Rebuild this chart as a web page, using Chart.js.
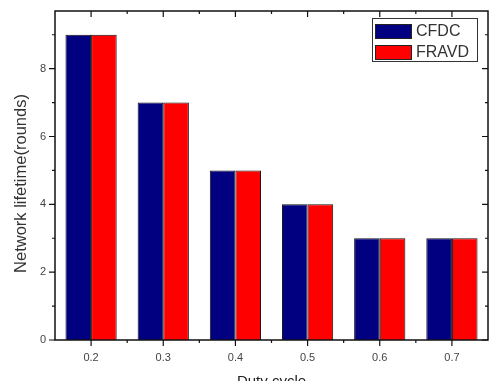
<!DOCTYPE html>
<html>
<head>
<meta charset="utf-8">
<script src="https://cdn.jsdelivr.net/npm/chart.js@4"></script>
<style>
  html, body { margin: 0; padding: 0; background: #fff; overflow: hidden; }
  #wrap { position: relative; width: 489px; height: 400px; }
</style>
</head>
<body>
<div id="wrap"><canvas id="chart"></canvas></div>
<script>
var dutyCycles = ['0.2', '0.3', '0.4', '0.5', '0.6', '0.7'];
var cfdcRounds = [9, 7, 5, 4, 3, 3];
var fravdRounds = [9, 7, 5, 4, 3, 3];
var yMajorTicks = [0, 2, 4, 6, 8];
var yMinorTicks = [1, 3, 5, 7, 9];
var yTitle = 'Network lifetime(rounds)';

var FONT = '"Liberation Sans", Arial, sans-serif';

// frame, origin-style ticks (out on bottom/left, in on top/right), y title and the boxed legend
var framePlugin = {
  id: 'frame',
  afterDatasetsDraw: function(chart) {
    var ctx = chart.ctx;
    var a = chart.chartArea;
    var xs = chart.scales.x;
    var ys = chart.scales.y;
    ctx.save();
    ctx.strokeStyle = '#111';
    ctx.lineWidth = 1.5;
    ctx.strokeRect(a.left, a.top, a.right - a.left, a.bottom - a.top);

    ctx.lineWidth = 1.2;
    ctx.beginPath();
    dutyCycles.forEach(function(c, i) {
      var px = xs.getPixelForValue(i);
      ctx.moveTo(px, a.bottom); ctx.lineTo(px, a.bottom + 6);
      ctx.moveTo(px, a.top); ctx.lineTo(px, a.top + 6);
      if (i < dutyCycles.length - 1) {
        var mx = xs.getPixelForValue(i + 0.5);
        ctx.moveTo(mx, a.bottom); ctx.lineTo(mx, a.bottom + 3);
        ctx.moveTo(mx, a.top); ctx.lineTo(mx, a.top + 3);
      }
    });
    yMajorTicks.forEach(function(v) {
      var py = ys.getPixelForValue(v);
      ctx.moveTo(a.left, py); ctx.lineTo(a.left - 6, py);
      ctx.moveTo(a.right, py); ctx.lineTo(a.right - 6, py);
    });
    yMinorTicks.forEach(function(v) {
      var py = ys.getPixelForValue(v);
      ctx.moveTo(a.left, py); ctx.lineTo(a.left - 3, py);
      ctx.moveTo(a.right, py); ctx.lineTo(a.right - 3, py);
    });
    ctx.stroke();

    // y title, sits a little below the axis middle in the original
    ctx.save();
    ctx.translate(21, (a.top + a.bottom) / 2 + 8);
    ctx.rotate(-Math.PI / 2);
    ctx.font = '16.5px ' + FONT;
    ctx.fillStyle = '#333';
    ctx.textAlign = 'center';
    ctx.textBaseline = 'middle';
    ctx.fillText(yTitle, 0, 0);
    ctx.restore();

    // legend box
    var bx = a.right - 116, by = a.top + 7, bw = 105, bh = 43;
    ctx.fillStyle = '#fff';
    ctx.fillRect(bx, by, bw, bh);
    ctx.lineWidth = 1;
    ctx.strokeStyle = '#333';
    ctx.strokeRect(bx + 0.5, by + 0.5, bw, bh);
    ctx.font = '16px ' + FONT;
    ctx.textBaseline = 'middle';
    chart.data.datasets.forEach(function(ds, i) {
      var sy = by + 6 + i * 21;
      ctx.fillStyle = ds.backgroundColor;
      ctx.fillRect(bx + 3, sy, 36, 14);
      ctx.strokeStyle = '#222';
      ctx.strokeRect(bx + 3.5, sy + 0.5, 36, 14);
      ctx.fillStyle = '#333';
      ctx.fillText(ds.label, bx + 44, sy + 8);
    });
    ctx.restore();
  }
};

new Chart(document.getElementById('chart'), {
  type: 'bar',
  data: {
    labels: dutyCycles,
    datasets: [
      {
        label: 'CFDC',
        data: cfdcRounds,
        backgroundColor: '#000080',
        borderColor: '#111',
        borderWidth: 1
      },
      {
        label: 'FRAVD',
        data: fravdRounds,
        backgroundColor: '#ff0000',
        borderColor: '#111',
        borderWidth: 1
      }
    ]
  },
  options: {
    responsive: true,
    maintainAspectRatio: false,
    animation: false,
    devicePixelRatio: 1,
    layout: { padding: { top: 11, right: 1, left: 0, bottom: 0 } },
    datasets: { bar: { categoryPercentage: 0.71, barPercentage: 1.0 } },
    plugins: {
      legend: { display: false },
      tooltip: { enabled: false }
    },
    scales: {
      x: {
        offset: true,
        grid: { display: false, drawTicks: false },
        border: { display: false },
        ticks: { color: '#444', font: { family: FONT, size: 11 }, padding: 11, maxRotation: 0 },
        title: {
          display: true,
          text: 'Duty cycle',
          color: '#222',
          font: { family: FONT, size: 15 },
          padding: { top: 0, bottom: 9 }
        },
        afterFit: function(s) { s.height = 60; s.paddingLeft = 0; s.paddingRight = 0; }
      },
      y: {
        min: 0,
        max: 9.7,
        grid: { display: false, drawTicks: false },
        border: { display: false },
        afterBuildTicks: function(s) {
          s.ticks = yMajorTicks.map(function(v) { return { value: v }; });
        },
        ticks: { color: '#444', font: { family: FONT, size: 11 }, padding: 9 },
        afterFit: function(s) { s.width = 55; s.paddingTop = 0; s.paddingBottom = 0; }
      }
    }
  },
  plugins: [framePlugin]
});
</script>
</body>
</html>
